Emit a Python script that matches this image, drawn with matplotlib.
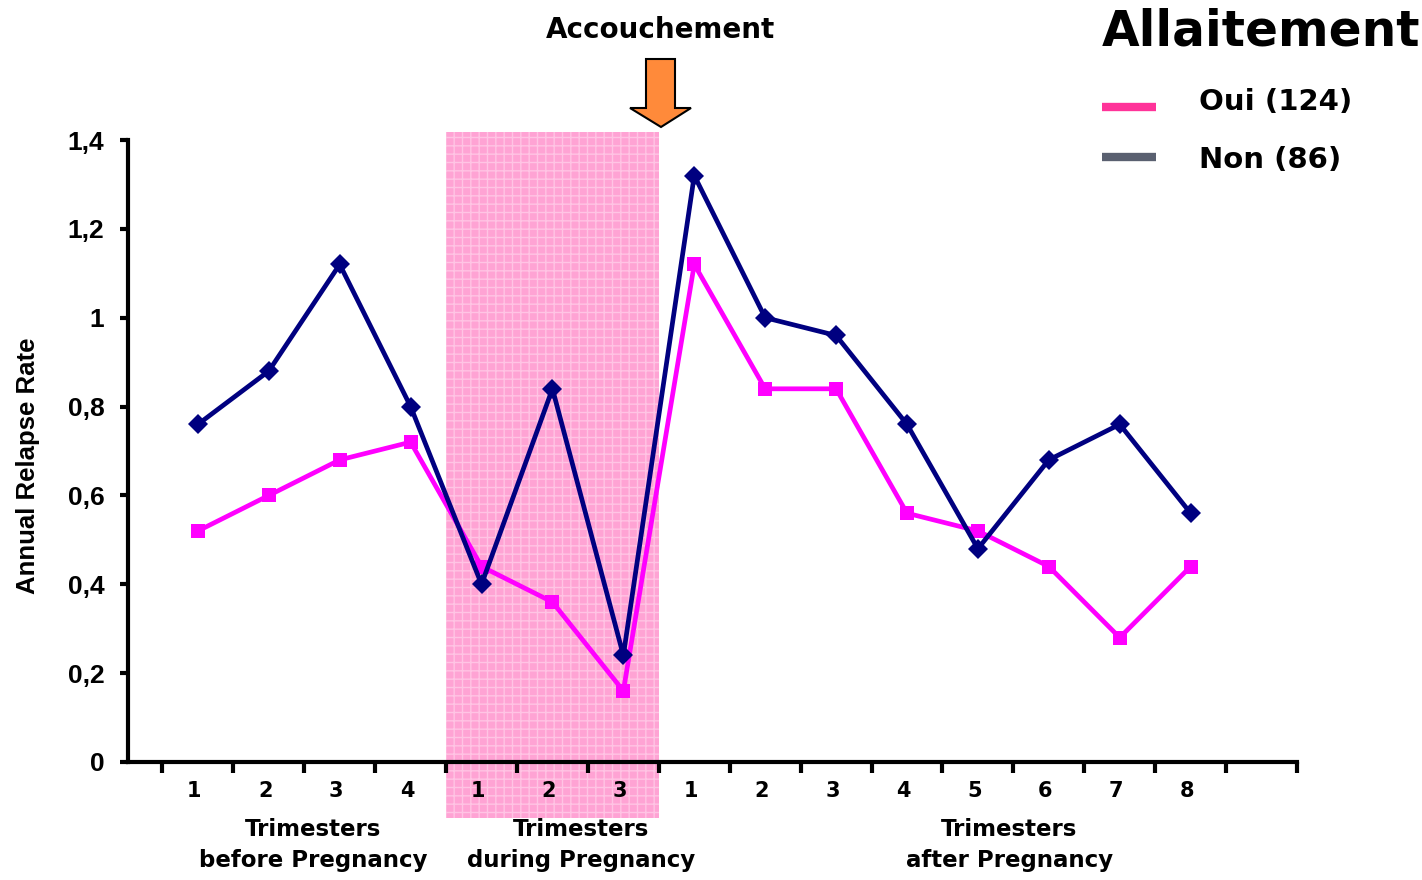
import matplotlib
matplotlib.use("Agg")
import matplotlib.pyplot as plt
from matplotlib.patches import Rectangle, Polygon
from matplotlib import font_manager
import numpy as np

# Trimester labels for the three periods
before_labels = ["1", "2", "3", "4"]
during_labels = ["1", "2", "3"]
after_labels = ["1", "2", "3", "4", "5", "6", "7", "8"]
tick_labels = before_labels + during_labels + after_labels

# Annual relapse rate per trimester
oui_values = [0.52, 0.60, 0.68, 0.72, 0.44, 0.36, 0.16, 1.12, 0.84, 0.84, 0.56, 0.52, 0.44, 0.28, 0.44]
non_values = [0.76, 0.88, 1.12, 0.80, 0.40, 0.84, 0.24, 1.32, 1.00, 0.96, 0.76, 0.48, 0.68, 0.76, 0.56]

y_ticks = [0, 0.2, 0.4, 0.6, 0.8, 1.0, 1.2, 1.4]
y_tick_labels = ["0", "0,2", "0,4", "0,6", "0,8", "1", "1,2", "1,4"]

group_titles = ["Trimesters\nbefore Pregnancy", "Trimesters\nduring Pregnancy", "Trimesters\nafter Pregnancy"]

NAVY = "#000080"
MAGENTA = "#FF00FF"

# Regular-width Liberation Sans Bold (avoid the Narrow variant)
arial_bold = None
for f in font_manager.fontManager.ttflist:
    if f.name == "Liberation Sans" and "Narrow" not in f.fname \
            and str(f.weight) in ("700", "bold") and f.style == "normal":
        arial_bold = font_manager.FontProperties(fname=f.fname)
        break
if arial_bold is None:
    arial_bold = font_manager.FontProperties(family="Liberation Sans", weight="bold")


def arial(size):
    p = arial_bold.copy()
    p.set_size(size)
    return p


plt.rcParams["hatch.linewidth"] = 1.0

fig = plt.figure(figsize=(14.22, 8.8), dpi=100)
ax = fig.add_axes([0.0900, 0.1341, 0.8221, 0.7068])

x = np.arange(len(tick_labels))
n_before, n_during = len(before_labels), len(during_labels)

# Shaded pregnancy period (extends slightly above and below the plot frame)
x0 = n_before - 0.5
x1 = n_before + n_during - 0.5
trans = ax.get_xaxis_transform()
shade = Rectangle((x0, -0.090), x1 - x0, 1.090 + 0.0129, transform=trans,
                  facecolor="#FFA3D4", edgecolor="#FFC4E4", hatch="++",
                  linewidth=0, clip_on=False, zorder=0)
ax.add_patch(shade)

ax.plot(x, oui_values, color=MAGENTA, lw=3.4, marker="s", ms=10,
        markeredgewidth=0, zorder=3, solid_joinstyle="miter")
ax.plot(x, non_values, color=NAVY, lw=3.4, marker="D", ms=10,
        markeredgewidth=0, zorder=4, solid_joinstyle="miter")

ax.set_xlim(-0.986, len(tick_labels) + 0.5)
ax.set_ylim(0, 1.4)

for s in ["top", "right"]:
    ax.spines[s].set_visible(False)
for s in ["left", "bottom"]:
    ax.spines[s].set_linewidth(3)
    ax.spines[s].set_zorder(5)

ax.set_yticks(y_ticks)
ax.set_yticklabels(y_tick_labels)
for lab in ax.get_yticklabels():
    lab.set_fontproperties(arial(19))
ax.tick_params(axis="y", direction="out", length=6, width=3, pad=11)

# Tick marks sit between trimesters; labels are placed under each point
ax.set_xticks(np.arange(-0.5, len(tick_labels) + 0.51, 1.0))
ax.set_xticklabels([])
ax.tick_params(axis="x", direction="out", length=8, width=3)
for xi, lab in zip(x, tick_labels):
    ax.text(xi - 0.05, -0.031, lab, transform=trans, ha="center", va="top",
            fontfamily="DejaVu Sans", fontweight="bold", fontsize=15)

group_centers = [1.62, 5.41, 11.44]
for gx, title in zip(group_centers, group_titles):
    ax.text(gx, -0.090, title, transform=trans, ha="center", va="top",
            fontfamily="DejaVu Sans", fontweight="bold", fontsize=16.5,
            linespacing=1.45)

ax.set_ylabel("Annual Relapse Rate", fontproperties=arial(18.5))
ax.yaxis.set_label_coords(-0.075, 0.476)

# Delivery arrow and label
def px(xp, yp):
    return (xp / 1422, 1 - yp / 880)

arrow_pts = [px(646, 59), px(675, 59), px(675, 108), px(691, 108),
             px(661, 127), px(630, 108), px(646, 108)]
fig.patches.append(Polygon(arrow_pts, closed=True, transform=fig.transFigure,
                           facecolor="#FF8A3A", edgecolor="black", linewidth=1.5))
fig.text(660 / 1422, 1 - 30 / 880, "Accouchement", ha="center", va="center",
         fontfamily="DejaVu Sans", fontweight="bold", fontsize=20)

# Legend block
fig.text(1261 / 1422, 1 - 32 / 880, "Allaitement", ha="center", va="center",
         fontfamily="DejaVu Sans", fontweight="bold", fontsize=35)
fig.add_artist(plt.Line2D([1102 / 1422, 1156 / 1422], [1 - 107 / 880] * 2,
                          color="#FF3399", lw=6, solid_capstyle="butt",
                          transform=fig.transFigure))
fig.add_artist(plt.Line2D([1102 / 1422, 1156 / 1422], [1 - 157 / 880] * 2,
                          color="#5A6070", lw=6, solid_capstyle="butt",
                          transform=fig.transFigure))
fig.text(1199 / 1422, 1 - 102 / 880, "Oui (124)", ha="left", va="center",
         fontfamily="DejaVu Sans", fontweight="bold", fontsize=21)
fig.text(1199 / 1422, 1 - 160 / 880, "Non (86)", ha="left", va="center",
         fontfamily="DejaVu Sans", fontweight="bold", fontsize=21)

fig.savefig("out.png", dpi=100)
